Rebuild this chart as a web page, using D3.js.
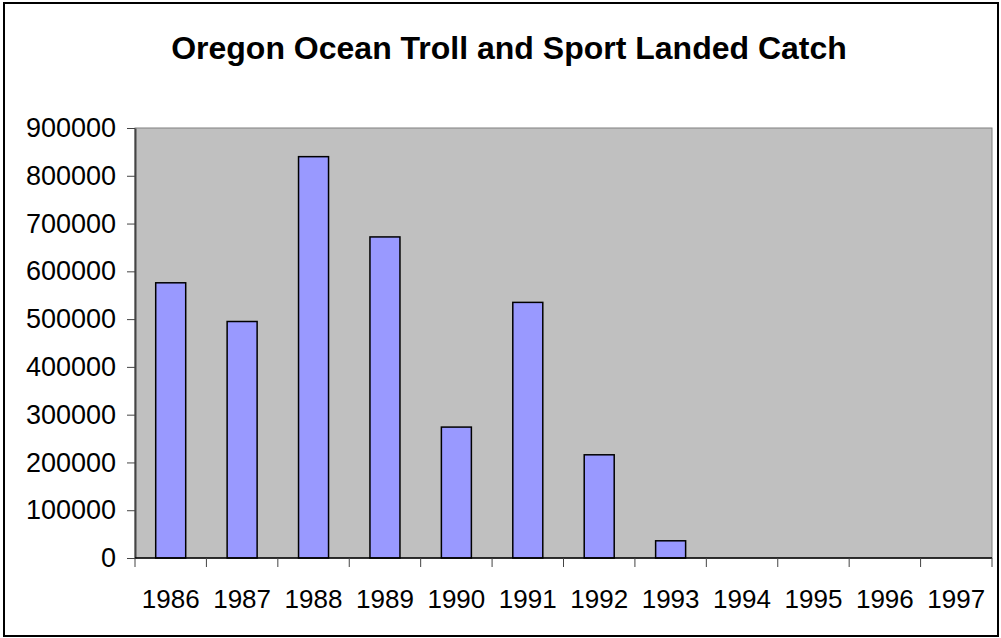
<!DOCTYPE html>
<html>
<head>
<meta charset="utf-8">
<script src="https://cdn.jsdelivr.net/npm/d3@7"></script>
<style>
  body { margin: 0; background: #fff; }
  text { font-family: "Liberation Sans", Arial, sans-serif; }
</style>
</head>
<body>
<svg width="1001" height="638"></svg>
<script>
// Data
const years = ["1986", "1987", "1988", "1989", "1990", "1991", "1992", "1993", "1994", "1995", "1996", "1997"];
const catchValues = [576000, 495000, 840000, 672000, 274000, 535000, 216000, 36000, 0, 0, 0, 0];
const yTicks = [0, 100000, 200000, 300000, 400000, 500000, 600000, 700000, 800000, 900000];
const title = "Oregon Ocean Troll and Sport Landed Catch";

const svg = d3.select("svg");

// plot area
const plot = { left: 135, top: 128, right: 992, bottom: 558 };

// outer frame
svg.append("rect")
    .attr("x", 4).attr("y", 3)
    .attr("width", 994).attr("height", 633)
    .attr("fill", "#fff")
    .attr("stroke", "#000")
    .attr("stroke-width", 2);

// title
svg.append("text")
    .attr("x", 509).attr("y", 59)
    .attr("text-anchor", "middle")
    .attr("font-size", 32)
    .attr("font-weight", "bold")
    .text(title);

// scales
const x = d3.scaleBand()
    .domain(years)
    .range([plot.left, plot.right])
    .paddingInner(0.58)
    .paddingOuter(0.29);

const y = d3.scaleLinear()
    .domain([0, 900000])
    .range([plot.bottom, plot.top]);

// plot background
svg.append("rect")
    .attr("x", plot.left).attr("y", plot.top)
    .attr("width", plot.right - plot.left)
    .attr("height", plot.bottom - plot.top)
    .attr("fill", "#c0c0c0")
    .attr("stroke", "#808080")
    .attr("stroke-width", 1);

// bars
svg.append("g")
    .selectAll("rect")
    .data(years.map((d, i) => ({ year: d, value: catchValues[i] })).filter(d => d.value > 0))
    .join("rect")
    .attr("x", d => x(d.year))
    .attr("y", d => y(d.value))
    .attr("width", x.bandwidth())
    .attr("height", d => y(0) - y(d.value))
    .attr("fill", "#9999ff")
    .attr("stroke", "#000")
    .attr("stroke-width", 1.5);

// y axis
const yAxis = svg.append("g")
    .attr("transform", `translate(${plot.left},0)`)
    .call(d3.axisLeft(y).tickValues(yTicks).tickFormat(d3.format("d")).tickSize(8).tickSizeOuter(0).tickPadding(11));
yAxis.select(".domain").attr("stroke", "#444").attr("stroke-width", 2);
yAxis.selectAll(".tick line").attr("stroke", "#444");
yAxis.selectAll("text")
    .attr("font-size", 27)
    .attr("fill", "#000")
    .style("font-family", "'Liberation Sans', Arial, sans-serif");

// x axis: ticks on category boundaries
const step = x.step();
const bounds = d3.range(years.length + 1).map(i => plot.left + i * step);
const xg = svg.append("g");
xg.append("line")
    .attr("x1", plot.left).attr("x2", plot.right)
    .attr("y1", plot.bottom).attr("y2", plot.bottom)
    .attr("stroke", "#000").attr("stroke-width", 1.5);
xg.selectAll(".bt")
    .data(bounds)
    .join("line")
    .attr("x1", d => d).attr("x2", d => d)
    .attr("y1", plot.bottom).attr("y2", plot.bottom + 9)
    .attr("stroke", "#444").attr("stroke-width", 1);
xg.selectAll("text")
    .data(years)
    .join("text")
    .attr("x", d => x(d) + x.bandwidth() / 2)
    .attr("y", 608)
    .attr("text-anchor", "middle")
    .attr("font-size", 26)
    .text(d => d);
</script>
</body>
</html>
